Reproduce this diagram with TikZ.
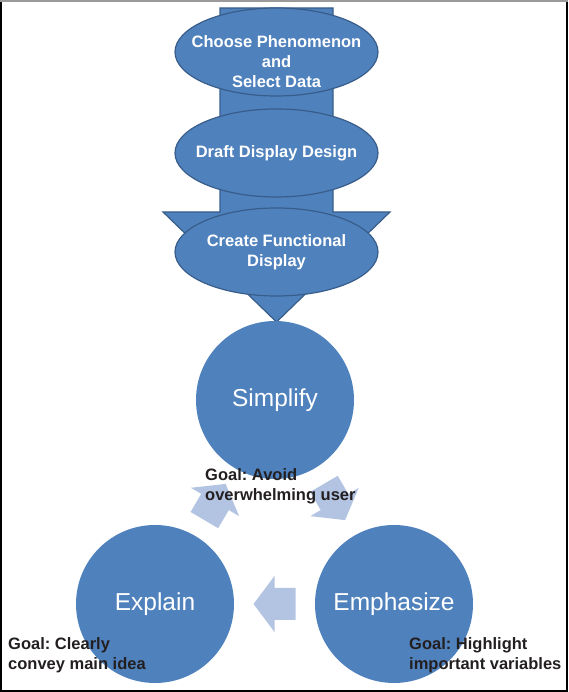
\documentclass[tikz,border=0pt]{standalone}
\usepackage{fontspec}
\setmainfont{Liberation Sans}
\usetikzlibrary{shapes.geometric,calc}
\definecolor{mainblue}{HTML}{4F81BD}
\definecolor{edgeblue}{HTML}{385D8A}
\definecolor{lightblue}{HTML}{B3C4E2}
\definecolor{labelink}{HTML}{231F20}
\definecolor{framegray}{HTML}{9A9A9A}
\frenchspacing
\tikzset{
  cycarrow/.pic={\fill[lightblue] (-21,16) -- (0,16) -- (0,28) -- (21,0) -- (0,-28) -- (0,-16) -- (-21,-16) -- cycle;}
}
\begin{document}
\begin{tikzpicture}[x=1pt,y=1pt,
  stepell/.style={ellipse, draw=edgeblue, line width=1.2pt, fill=mainblue, minimum width=203pt, minimum height=88pt, inner sep=0pt},
  etext/.style={text=white, font=\fontsize{16.5}{20}\selectfont\bfseries, align=center, inner sep=0pt},
  bigcircle/.style={circle, fill=mainblue, minimum size=158pt, inner sep=0pt, text=white, font=\fontsize{24.5}{29}\selectfont},
  goal/.style={text=labelink, font=\fontsize{16.5}{20}\selectfont\bfseries, align=left, anchor=north west, inner sep=0pt}
]
\useasboundingbox (0,0) rectangle (568,692);
% big down arrow
\draw[fill=mainblue, draw=edgeblue, line width=1.2pt]
  (220,684) -- (333,684) -- (333,480) -- (390,480) -- (276.5,370) -- (163,480) -- (220,480) -- cycle;
% ellipses
\node[stepell] (e1) at (276.5,640) {};
\node[etext] (t1) at (276.5,630) {Choose Phenomenon\\and\\Select Data};
\node[stepell] (e2) at (276.5,539) {};
\node[etext] (t2) at (e2) {Draft Display Design};
\node[stepell] (e3) at (276.5,440) {};
\node[etext] (t3) at (e3) {Create Functional\\Display};
% cycle circles
\node[bigcircle] (simplify) at (275,292) {Simplify};
\node[bigcircle] (explain) at (155,88) {Explain};
\node[bigcircle] (emphasize) at (394,88) {Emphasize};
% cycle arrows
\pic[rotate=59.5] at ($(explain)!0.5!(simplify)$) {cycarrow};
\pic[rotate=-59.7] at ($(simplify)!0.5!(emphasize)$) {cycarrow};
\pic[rotate=180] at ($(emphasize)!0.5!(explain)$) {cycarrow};
% goal labels
\node[goal] (g1) at (205,224) {Goal: Avoid\\overwhelming user};
\node[goal] (g2) at (8,55) {Goal: Clearly\\convey main idea};
\node[goal] (g3) at (409,55) {Goal: Highlight\\important variables};
% frame
\draw[line width=2pt, black] (1,692) -- (1,1) -- (567,1) -- (567,692);
\draw[line width=2pt, framegray] (0,691) -- (568,691);
\end{tikzpicture}
\end{document}
